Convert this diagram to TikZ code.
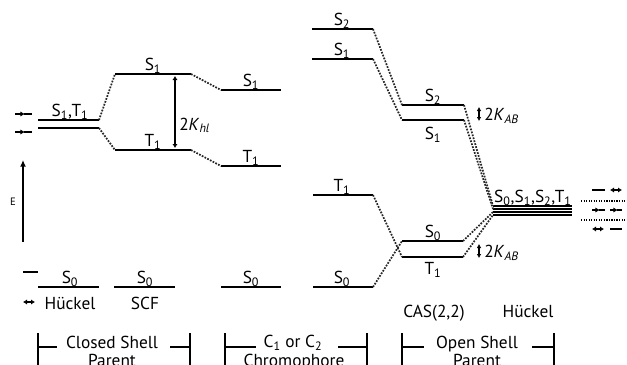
\documentclass[tikz,border=0pt]{standalone}
\usepackage{fontspec}
\setmainfont{PT Sans}
\usetikzlibrary{arrows.meta}

\begin{document}
\begin{tikzpicture}[x=0.75pt,y=-0.75pt,
lvl/.style={line width=1.7pt},
link/.style={densely dotted,line width=1.3pt,draw=black!85},
lab/.style={inner sep=0pt,anchor=base,font=\fontsize{13}{15}\selectfont},
orb/.style={line width=1.1pt},
el/.style={-{Latex[length=3.5pt,width=4pt]}},
pair/.style={{Latex[length=3pt,width=4pt]}-{Latex[length=3pt,width=4pt]}},
brk/.style={line width=1.1pt}]
\useasboundingbox (0,0) rectangle (627,364);
% closed shell parent, Hueckel and SCF
\coordinate (hAa) at (38,120);\coordinate (hAb) at (99,120);
\coordinate (hBa) at (38,128);\coordinate (hBb) at (99,128);
\coordinate (h0a) at (38,287);\coordinate (h0b) at (99,287);
\coordinate (sS1a) at (115,74);\coordinate (sS1b) at (191,74);
\coordinate (sT1a) at (115,150);\coordinate (sT1b) at (191,150);
\coordinate (s0a) at (114,287);\coordinate (s0b) at (175,287);
% chromophore
\coordinate (cS1a) at (221,90);\coordinate (cS1b) at (281,90);
\coordinate (cT1a) at (221,166);\coordinate (cT1b) at (281,166);
\coordinate (c0a) at (221,287);\coordinate (c0b) at (281,287);
% open shell parent
\coordinate (oS2a) at (312,29);\coordinate (oS2b) at (373,29);
\coordinate (oS1a) at (312,59);\coordinate (oS1b) at (373,59);
\coordinate (oT1a) at (313,195);\coordinate (oT1b) at (373,195);
\coordinate (o0a) at (313,287);\coordinate (o0b) at (373,287);
\coordinate (aS2a) at (402,105);\coordinate (aS2b) at (464,105);
\coordinate (aS1a) at (402,120);\coordinate (aS1b) at (464,120);
\coordinate (a0a) at (402,241);\coordinate (a0b) at (463,241);
\coordinate (aT1a) at (402,257);\coordinate (aT1b) at (463,257);
\foreach \i/\y in {1/206,2/209,3/212,4/215}{\coordinate (k\i a) at (493,\y);\coordinate (k\i b) at (572,\y);}
% levels
\foreach \p in {hA,hB,h0,sS1,sT1,s0,cS1,cT1,c0,oS2,oS1,oT1,o0,aS2,aS1,a0,aT1,k1,k2,k3,k4}{\draw[lvl] (\p a) -- (\p b);}
% correlation lines
\draw[link] (hAb) -- (sS1a);\draw[link] (hBb) -- (sT1a);
\draw[link] (sS1b) -- (cS1a);\draw[link] (sT1b) -- (cT1a);
\draw[link] (oS2b) -- (aS2a);\draw[link] (oS1b) -- (aS1a);
\draw[link] (oT1b) -- (aT1a);\draw[link] (o0b) -- (a0a);
\draw[link] (aS2b) -- (k1a);\draw[link] (aS1b) -- (k2a);
\draw[link] (a0b) -- (k3a);\draw[link] (aT1b) -- (k4a);
% state labels
\node[lab] (lhA) at (70,116) {S\textsubscript{1},T\textsubscript{1}};
\node[lab] (lh0) at (70,283) {S\textsubscript{0}};
\node[lab] (lsS1) at (153,70) {S\textsubscript{1}};
\node[lab] (lsT1) at (153,146) {T\textsubscript{1}};
\node[lab] (ls0) at (145,283) {S\textsubscript{0}};
\node[lab] (lcS1) at (251,86) {S\textsubscript{1}};
\node[lab] (lcT1) at (251,162) {T\textsubscript{1}};
\node[lab] (lc0) at (251,283) {S\textsubscript{0}};
\node[lab] (loS2) at (342,25) {S\textsubscript{2}};
\node[lab] (loS1) at (342,55) {S\textsubscript{1}};
\node[lab] (loT1) at (342,191) {T\textsubscript{1}};
\node[lab] (lo0) at (342,283) {S\textsubscript{0}};
\node[lab] (laS2) at (433,101) {S\textsubscript{2}};
\node[lab] (laS1) at (433,139) {S\textsubscript{1}};
\node[lab] (la0) at (433,237) {S\textsubscript{0}};
\node[lab] (laT1) at (433,274) {T\textsubscript{1}};
\node[lab] (lk) at (533,202) {S\textsubscript{0},S\textsubscript{1},S\textsubscript{2},T\textsubscript{1}};
% splittings
\coordinate (khT) at (175,76);\coordinate (khB) at (175,148);
\draw[pair,line width=1pt] (khT) -- (khB);
\node[lab,anchor=base west] (lkh) at (179,130) {2\textit{K}\textsubscript{\textit{hl}}};
\coordinate (kaT) at (479,107);\coordinate (kaB) at (479,121);
\draw[{Latex[length=3pt,width=3.5pt]}-{Latex[length=3pt,width=3.5pt]},line width=0.9pt] (kaT) -- (kaB);
\node[lab,anchor=base west] (lka) at (484,120) {2\textit{K}\textsubscript{\textit{AB}}};
\coordinate (kbT) at (479,244);\coordinate (kbB) at (479,258);
\draw[{Latex[length=3pt,width=3.5pt]}-{Latex[length=3pt,width=3.5pt]},line width=0.9pt] (kbT) -- (kbB);
\node[lab,anchor=base west] (lkb) at (484,257) {2\textit{K}\textsubscript{\textit{AB}}};
% energy axis
\coordinate (eB) at (23,242);\coordinate (eT) at (23,160);
\draw[-{Latex[length=5pt,width=4.5pt]},line width=1.1pt] (eB) -- (eT);
\node[inner sep=0pt,font=\fontsize{8}{9}\selectfont] (eL) at (13,202) {E};
% orbital occupations
\draw[orb,el] (15,114) -- (25,114);\draw[orb] (24,114) -- (32,114);
\draw[orb,el] (15,132) -- (25,132);\draw[orb] (24,132) -- (32,132);
\draw[orb] (23,272) -- (38,272);
\draw[orb,pair] (23,302) -- (35,302);
\draw[orb] (592,190) -- (605,190);\draw[orb,pair] (610,190) -- (622,190);
\draw[orb,el] (592,210) -- (600,210);\draw[orb] (599,210) -- (605,210);
\draw[orb,el] (610,210) -- (618,210);\draw[orb] (617,210) -- (622,210);
\draw[orb,pair] (592,229) -- (604,229);\draw[orb] (610,229) -- (622,229);
\draw[densely dotted,line width=0.9pt] (581,201) -- (627,201);
\draw[densely dotted,line width=0.9pt] (581,220) -- (627,220);
% method labels
\node[lab] (mH) at (70,309) {Hückel};
\node[lab] (mS) at (145,309) {SCF};
\node[lab] (mC) at (434,317) {CAS(2,2)};
\node[lab] (mH2) at (528,317) {Hückel};
% brackets
\node[lab] (gCl) at (112,348) {Closed Shell};
\node[lab] (gCl2) at (112,366) {Parent};
\draw[brk] (38,333) -- (38,372);\draw[brk] (38,347) -- (57,347);
\draw[brk] (170,347) -- (190,347);\draw[brk] (190,333) -- (190,372);
\node[lab] (gCh) at (293,347) {C\textsubscript{1} or C\textsubscript{2}};
\node[lab] (gCh2) at (294,366) {Chromophore};
\draw[brk] (225,333) -- (225,372);\draw[brk] (225,347) -- (256,347);
\draw[brk] (338,347) -- (367,347);\draw[brk] (367,333) -- (367,372);
\node[lab] (gOp) at (477,348) {Open Shell};
\node[lab] (gOp2) at (477,366) {Parent};
\draw[brk] (402,333) -- (402,372);\draw[brk] (402,347) -- (424,347);
\draw[brk] (532,347) -- (554,347);\draw[brk] (554,333) -- (554,372);
\end{tikzpicture}
\end{document}
